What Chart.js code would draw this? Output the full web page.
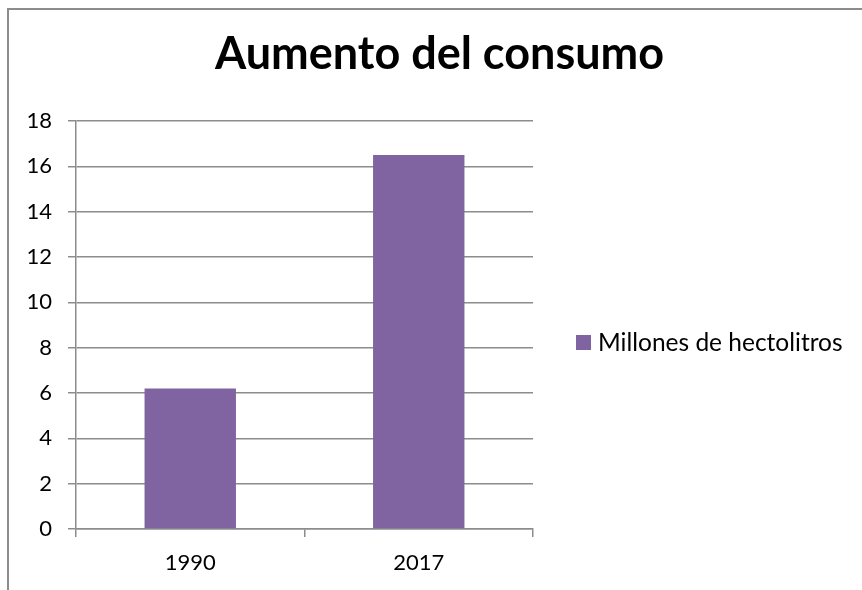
<!DOCTYPE html>
<html>
<head>
<meta charset="utf-8">
<script src="https://cdn.jsdelivr.net/npm/chart.js@4"></script>
<style>
  html, body { margin:0; padding:0; background:#fff; overflow:hidden; }
  #wrap { position:relative; width:862px; height:590px; }
  #frame { position:absolute; left:7px; top:8px; width:900px; height:700px; border:2px solid #8c8c8c; box-sizing:border-box; pointer-events:none; }
  canvas { position:absolute; left:0; top:0; }
</style>
</head>
<body>
<div id="wrap">
  <canvas id="chart" width="862" height="590"></canvas>
  <div id="frame"></div>
</div>
<script>
const categories = ['1990', '2017'];
const seriesName = 'Millones de hectolitros';
const seriesValues = [6.2, 16.5];
const yTicks = [0, 2, 4, 6, 8, 10, 12, 14, 16, 18];

const FONT = "Lato, 'Noto Sans', sans-serif";
const GRID = '#8c8c8c';
const BAR = '#8064a2';

Chart.defaults.font.family = FONT;
Chart.defaults.color = '#000';

// single-entry legend drawn to the right of the plot area
const sideLegend = {
  id: 'sideLegend',
  afterDraw(chart) {
    const { ctx, chartArea } = chart;
    const ds = chart.data.datasets[0];
    const x = chartArea.right + 43;
    const y = (chartArea.top + chartArea.bottom) / 2 + 18;
    ctx.save();
    ctx.fillStyle = ds.backgroundColor;
    ctx.fillRect(x, y - 8, 15, 15);
    ctx.fillStyle = '#000';
    ctx.font = `24.5px ${FONT}`;
    ctx.textBaseline = 'middle';
    ctx.fillText(ds.label, x + 22, y);
    ctx.restore();
  },
};

new Chart(document.getElementById('chart'), {
  type: 'bar',
  data: {
    labels: categories,
    datasets: [{
      label: seriesName,
      data: seriesValues,
      backgroundColor: BAR,
      borderWidth: 0,
      barPercentage: 0.4,
      categoryPercentage: 1,
    }],
  },
  options: {
    responsive: false,
    animation: false,
    layout: { padding: { left: 17, right: 0, top: 0, bottom: 0 } },
    plugins: {
      title: {
        display: true,
        text: 'Aumento del consumo',
        font: { size: 45, weight: 'bold' },
        color: '#000',
        padding: { top: 27, bottom: 40 },
      },
      legend: { display: false },
      tooltip: { enabled: false },
    },
    scales: {
      x: {
        afterFit: s => { s.height = 61; },
        grid: { display: true, drawOnChartArea: false, color: GRID, lineWidth: 1.5, tickLength: 8, offset: true },
        border: { display: true, color: GRID, width: 1.5 },
        ticks: { font: { size: 22 }, color: '#000', padding: 13 },
      },
      y: {
        min: 0, max: 18,
        afterBuildTicks: s => { s.ticks = yTicks.map(v => ({ value: v })); },
        afterFit: s => { s.width = 59; },
        grid: { color: GRID, lineWidth: 1.5, tickLength: 8 },
        border: { display: true, color: GRID, width: 1.5 },
        ticks: { font: { size: 22 }, color: '#000', padding: 16 },
      },
      // empty right-hand axis that keeps room for the legend
      side: {
        axis: 'y',
        position: 'right',
        afterFit: s => { s.width = 329; },
        grid: { display: false },
        border: { display: false },
        ticks: { display: false },
      },
    },
  },
  plugins: [sideLegend],
});
</script>
</body>
</html>
